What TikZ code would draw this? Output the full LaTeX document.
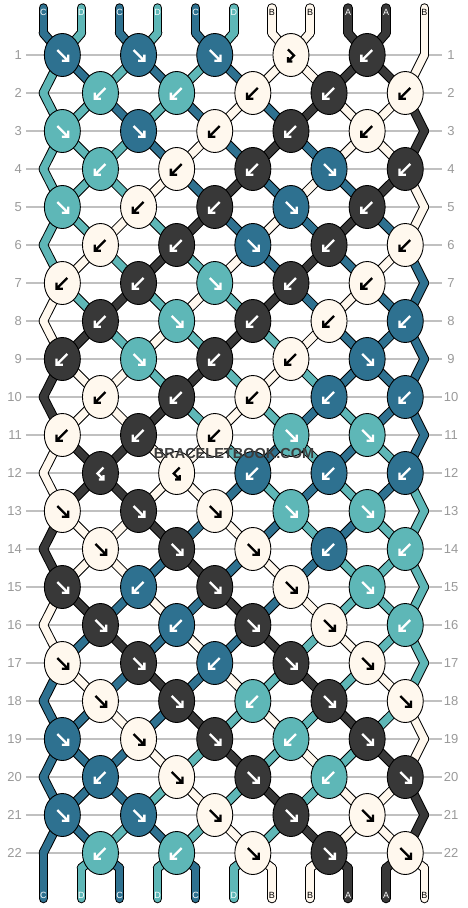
\documentclass[tikz,border=0pt]{standalone}
\usepackage{fontspec}
\setmainfont{Liberation Sans}
\usetikzlibrary{shapes.geometric}
\definecolor{strA}{HTML}{383838}
\definecolor{strB}{HTML}{FFF8EE}
\definecolor{strC}{HTML}{2E7190}
\definecolor{strD}{HTML}{5EB7B7}
\definecolor{gridgray}{HTML}{C0C0C0}
\definecolor{labgray}{HTML}{9A9A9A}
\definecolor{wmdark}{HTML}{3C3C3C}

\newcommand\rowstate[1]{\ifcase#1 C,D,C,D,C,D,B,B,A,A,B%
\or D,C,D,C,D,C,B,B,A,A,B%
\or D,D,C,D,C,B,C,A,B,B,A%
\or D,D,D,C,B,C,A,C,B,B,A%
\or D,D,D,B,C,A,C,B,C,A,B%
\or D,D,B,D,A,C,B,C,A,C,B%
\or D,B,D,A,D,B,C,A,C,B,C%
\or B,D,A,D,B,D,A,C,B,C,C%
\or B,A,D,B,D,A,D,B,C,C,C%
\or A,B,B,D,A,D,B,D,C,C,C%
\or A,B,B,A,D,B,D,C,D,C,C%
\or B,A,A,B,B,D,C,D,C,D,C%
\or B,A,A,B,B,C,D,C,D,C,D%
\or A,B,B,A,C,B,C,D,C,D,D%
\or A,B,B,C,A,C,B,C,D,D,D%
\or B,A,C,B,C,A,C,B,D,D,D%
\or B,C,A,C,B,C,A,D,B,D,D%
\or C,B,C,A,C,B,D,A,D,B,D%
\or C,C,B,C,A,D,B,D,A,D,B%
\or C,C,C,B,D,A,D,B,D,A,B%
\or C,C,C,D,B,D,A,D,B,B,A%
\or C,C,D,C,D,B,D,A,B,B,A%
\or C,D,C,D,C,D,B,B,A,A,B\fi}

\newcommand\rowknots[1]{\ifcase#1 %
\or C/f,C/f,C/f,B/fb,A/b%
\or D/b,D/b,B/b,A/b,B/b%
\or D/f,C/f,B/b,A/b,B/b%
\or D/b,B/b,A/b,C/f,A/b%
\or D/f,B/b,A/b,C/f,A/b%
\or B/b,A/b,C/f,A/b,B/b%
\or B/b,A/b,D/f,A/b,B/b%
\or A/b,D/f,A/b,B/b,C/b%
\or A/b,D/f,A/b,B/b,C/f%
\or B/b,A/b,B/b,C/b,C/b%
\or B/b,A/b,B/b,D/f,D/f%
\or A/bf,B/bf,C/b,C/b,C/b%
\or B/f,A/f,B/f,D/f,D/f%
\or B/f,A/f,B/f,C/b,D/b%
\or A/f,C/b,A/f,B/f,D/f%
\or A/f,C/b,A/f,B/f,D/b%
\or B/f,A/f,C/b,A/f,B/f%
\or B/f,A/f,D/b,A/f,B/f%
\or C/f,B/f,A/f,D/b,A/f%
\or C/b,B/f,A/f,D/b,A/f%
\or C/f,C/f,B/f,A/f,B/f%
\or D/b,D/b,B/f,A/f,B/f\fi}

% position of string #1 at row #2 (0 = top, 23 = bottom)
\newcommand\nodexy[2]{%
  \pgfmathsetmacro\nx{43.3+38.1*(#1-1)+((#2==0||#2==23||(mod(#2,2)==1&&#1==11)||(mod(#2,2)==0&&#1==1))?0:(mod(#1+#2,2)==0?19.05:-19.05))}%
  \pgfmathsetmacro\ny{#2==0?33:(#2==23?868:55+38*(#2-1))}%
}

\tikzset{
  outl/.style={line width=9.5pt, line cap=round, draw=black},
  inl/.style={line width=7.5pt, line cap=round},
  knot/.style={ellipse, draw=black, line width=0.9pt, minimum width=36pt, minimum height=43pt, inner sep=0pt},
  arrl/.style={line width=2.3pt, line cap=butt, line join=miter},
  gridline/.style={draw=gridgray, line width=1.1pt},
  rowlab/.style={text=labgray, font=\fontsize{13}{13}\selectfont, inner sep=0pt},
  strlab/.style={font=\fontsize{9}{9}\selectfont, inner sep=0pt},
  wm/.style={font=\bfseries\fontsize{14.5}{14.5}\selectfont, inner sep=0pt}
}

\newcommand\drawstrands[1]{%
  \foreach \rw in {0,...,22}{%
    \edef\cols{\rowstate{\rw}}%
    \foreach \cl [count=\pp] in \cols {%
      \nodexy{\pp}{\rw}\let\xa\nx\let\ya\ny
      \pgfmathtruncatemacro\rnext{\rw+1}%
      \nodexy{\pp}{\rnext}%
      \ifnum#1=0 \draw[outl] (\xa,\ya) -- (\nx,\ny);%
      \else \draw[inl, draw=str\cl] (\xa,\ya) -- (\nx,\ny);\fi
    }%
  }%
  \foreach \cl [count=\pp] in {C,D,C,D,C,D,B,B,A,A,B}{%
    \pgfmathsetmacro\xs{43.3+38.1*(\pp-1)}%
    \ifnum#1=0 \draw[outl] (\xs,8)--(\xs,33) (\xs,868)--(\xs,898.5);%
    \else \draw[inl,draw=str\cl] (\xs,8)--(\xs,33) (\xs,868)--(\xs,898.5);\fi
  }%
}

\newcommand\arrf[3]{\draw[arrl,draw=#3,shift={(#1,#2)}] (-5,-5)--(5.5,5.5) (5.8,-0.5)--(5.8,5.8)--(-0.5,5.8);}
\newcommand\arrb[3]{\draw[arrl,draw=#3,shift={(#1,#2)}] (5,-5)--(-5.5,5.5) (-5.8,-0.5)--(-5.8,5.8)--(0.5,5.8);}
\newcommand\arrfb[3]{\draw[arrl,draw=#3,shift={(#1,#2)}] (-3,-5.5)--(3,0.5)--(-2.6,6.1) (-3,2)--(-3,6.5)--(1.5,6.5);}
\newcommand\arrbf[3]{\draw[arrl,draw=#3,shift={(#1,#2)}] (3,-5.5)--(-3,0.5)--(2.6,6.1) (3,2)--(3,6.5)--(-1.5,6.5);}

\begin{document}
\begin{tikzpicture}[x=1pt,y=-1pt]
\fill[white] (0,0) rectangle (468,908);
\useasboundingbox (0,0) rectangle (468,908);
% grid lines and row numbers
\foreach \rw in {1,...,22}{
  \pgfmathsetmacro\ky{55+38*(\rw-1)}
  \draw[gridline] (26,\ky) -- (442,\ky);
  \node[rowlab, anchor=east] (ll\rw) at (22,\ky) {\rw};
  \node[rowlab] (rl\rw) at (451,\ky) {\rw};
}
% strings
\drawstrands{0}
\drawstrands{1}
% string labels
\foreach \cl [count=\pp] in {C,D,C,D,C,D,B,B,A,A,B}{
  \pgfmathsetmacro\xs{43.3+38.1*(\pp-1)}
  \if\cl B\def\ac{black}\else\def\ac{white}\fi
  \node[strlab,text=\ac] (top\pp) at (\xs,12.5) {\cl};
  \node[strlab,text=\ac] (bot\pp) at (\xs,895) {\cl};
}
% knots
\foreach \rw in {1,...,22}{
  \edef\kn{\rowknots{\rw}}
  \foreach \cl/\ty [count=\kk] in \kn {
    \pgfmathsetmacro\kx{62.35+76.2*(\kk-1)+(mod(\rw,2)==0?38.1:0)}
    \pgfmathsetmacro\ky{55+38*(\rw-1)}
    \node[knot, fill=str\cl] (k\rw-\kk) at (\kx,\ky) {};
    \if\cl B\def\ac{black}\else\def\ac{white}\fi
    \csname arr\ty\endcsname{\kx}{\ky}{\ac}
  }
}
% watermark
\node[wm,text=wmdark] (wmark) at (234,454) {BRACELETBOOK.COM};
\end{tikzpicture}
\end{document}
